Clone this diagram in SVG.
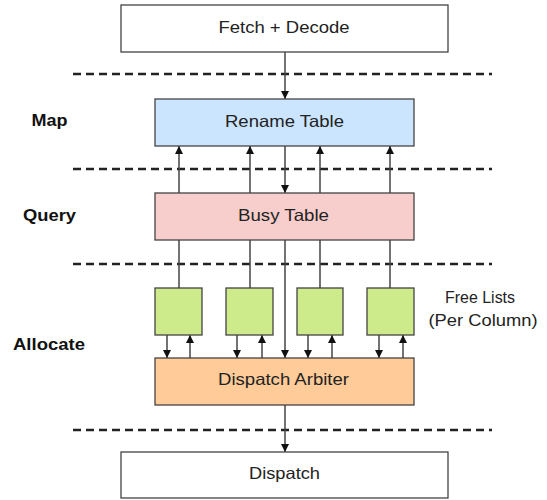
<svg xmlns="http://www.w3.org/2000/svg" width="547" height="500" viewBox="0 0 547 500">
<defs>
<marker id="ah" viewBox="0 0 10 10" refX="10" refY="5" markerWidth="8" markerHeight="8" markerUnits="userSpaceOnUse" orient="auto">
<path d="M0,0 L10,5 L0,10 z" fill="#111"/>
</marker>
<style>
.box{stroke:#444;stroke-width:1.3}
.t{font-family:"Liberation Sans",Arial,sans-serif;font-size:16.5px;fill:#222;text-anchor:middle}
.lbl{font-family:"Liberation Sans",Arial,sans-serif;font-size:17px;font-weight:bold;fill:#111;text-anchor:middle}
.dash{stroke:#222;stroke-width:2.5;stroke-dasharray:8,5;fill:none}
.c{stroke:#444;stroke-width:1.5;fill:none}
.ca{stroke:#444;stroke-width:1.5;fill:none;marker-end:url(#ah)}
</style>
</defs>
<g id="separators">
<line class="dash" x1="73" y1="74" x2="492" y2="74"/>
<line class="dash" x1="73" y1="169" x2="492" y2="169"/>
<line class="dash" x1="73" y1="264" x2="492" y2="264"/>
<line class="dash" x1="73" y1="430" x2="492" y2="430"/>
</g>
<g id="stage-labels">
<text class="lbl" x="49.5" y="126" textLength="36" lengthAdjust="spacingAndGlyphs">Map</text>
<text class="lbl" x="49.5" y="221" textLength="53" lengthAdjust="spacingAndGlyphs">Query</text>
<text class="lbl" x="49" y="350" textLength="72" lengthAdjust="spacingAndGlyphs">Allocate</text>
</g>
<g id="connectors">
<line class="ca" x1="285" y1="52" x2="285" y2="99"/>
<line class="ca" x1="179" y1="193" x2="179" y2="146"/>
<line class="ca" x1="250" y1="193" x2="250" y2="146"/>
<line class="ca" x1="320" y1="193" x2="320" y2="146"/>
<line class="ca" x1="390" y1="193" x2="390" y2="146"/>
<line class="ca" x1="285" y1="146" x2="285" y2="193"/>
<line class="c" x1="179" y1="240" x2="179" y2="288"/>
<line class="c" x1="250" y1="240" x2="250" y2="288"/>
<line class="c" x1="320" y1="240" x2="320" y2="288"/>
<line class="c" x1="390" y1="240" x2="390" y2="288"/>
<line class="ca" x1="285" y1="240" x2="285" y2="358"/>
<line class="ca" x1="167" y1="335" x2="167" y2="358"/>
<line class="ca" x1="190" y1="358" x2="190" y2="335"/>
<line class="ca" x1="237" y1="335" x2="237" y2="358"/>
<line class="ca" x1="262" y1="358" x2="262" y2="335"/>
<line class="ca" x1="308" y1="335" x2="308" y2="358"/>
<line class="ca" x1="332" y1="358" x2="332" y2="335"/>
<line class="ca" x1="379" y1="335" x2="379" y2="358"/>
<line class="ca" x1="403" y1="358" x2="403" y2="335"/>
<line class="ca" x1="285" y1="405" x2="285" y2="452"/>
</g>
<g id="fetch-decode">
<rect class="box" x="121" y="5" width="327" height="47" fill="#ffffff"/>
<text class="t" x="284" y="33" textLength="131" lengthAdjust="spacingAndGlyphs">Fetch + Decode</text>
</g>
<g id="rename-table">
<rect class="box" x="155" y="99" width="259" height="47" fill="#cce5ff"/>
<text class="t" x="284.5" y="127" textLength="119" lengthAdjust="spacingAndGlyphs">Rename Table</text>
</g>
<g id="busy-table">
<rect class="box" x="155" y="193" width="259" height="47" fill="#f8cecc"/>
<text class="t" x="283.5" y="221" textLength="91" lengthAdjust="spacingAndGlyphs">Busy Table</text>
</g>
<g id="free-list-1"><rect class="box" x="155" y="288" width="47" height="47" fill="#cdeb8b"/></g>
<g id="free-list-2"><rect class="box" x="226" y="288" width="47" height="47" fill="#cdeb8b"/></g>
<g id="free-list-3"><rect class="box" x="297" y="288" width="46" height="47" fill="#cdeb8b"/></g>
<g id="free-list-4"><rect class="box" x="367" y="288" width="47" height="47" fill="#cdeb8b"/></g>
<g id="free-lists-label">
<text class="t" x="480" y="303" textLength="70" lengthAdjust="spacingAndGlyphs">Free Lists</text>
<text class="t" x="483" y="326" textLength="109" lengthAdjust="spacingAndGlyphs">(Per Column)</text>
</g>
<g id="dispatch-arbiter">
<rect class="box" x="155" y="358" width="259" height="47" fill="#ffcc99"/>
<text class="t" x="283.5" y="385" textLength="131" lengthAdjust="spacingAndGlyphs">Dispatch Arbiter</text>
</g>
<g id="dispatch">
<rect class="box" x="121" y="452" width="327" height="46" fill="#ffffff"/>
<text class="t" x="284.5" y="479" textLength="71" lengthAdjust="spacingAndGlyphs">Dispatch</text>
</g>
</svg>
